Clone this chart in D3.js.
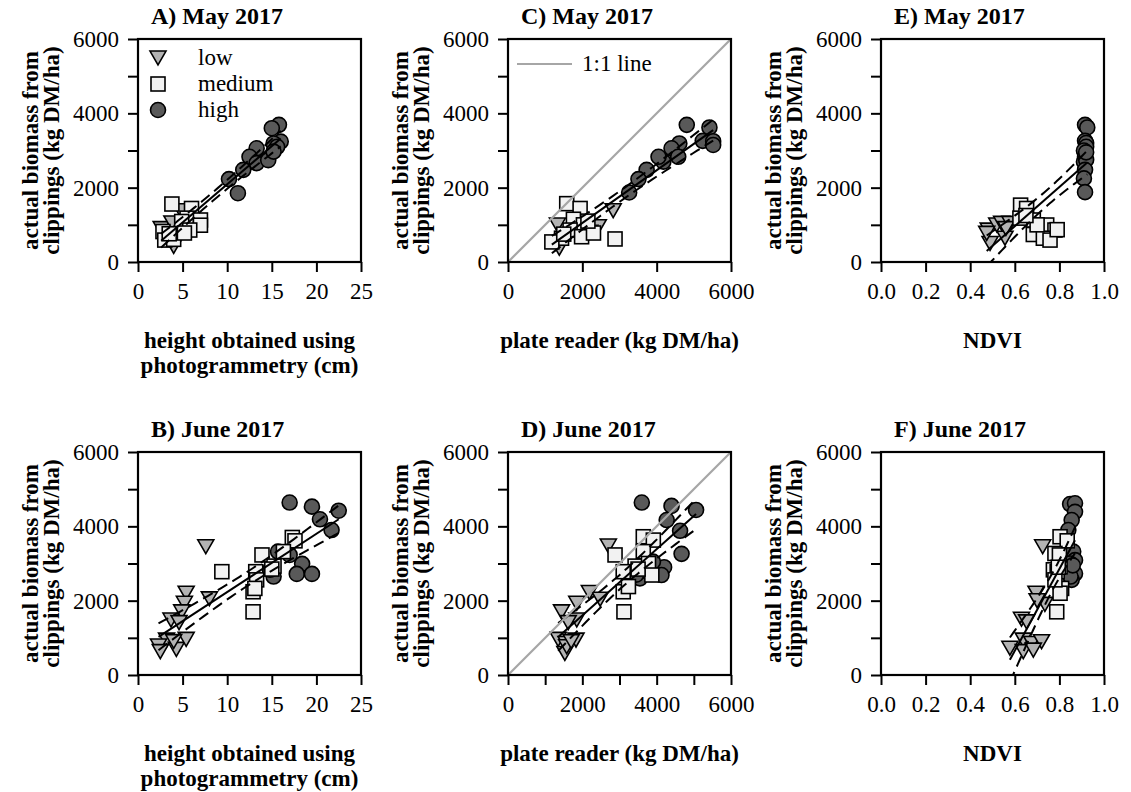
<!DOCTYPE html>
<html><head><meta charset="utf-8">
<script src="https://cdn.jsdelivr.net/npm/d3@7"></script>
<style>
body{margin:0;background:#fff}
svg{display:block}
text{font-family:"Liberation Serif","Times New Roman",serif;fill:#000}
</style>
</head><body>
<svg id="chart" width="1131" height="792"></svg>
<script>
// ---------- DATA ----------
// Panel A: height (cm) vs biomass, May 2017
const aLow  = [[2.6,900],[3.8,1050],[4.0,420],[4.8,1380],[3.3,650]];
const aMed  = [[3.8,1560],[6.0,1440],[5.5,1180],[7.0,1130],[7.0,990],[4.9,1090],[5.8,860],[2.8,820],[3.0,590],[4.0,610],[3.5,760],[5.2,780]];
const aHigh = [[15.8,3690],[15.0,3600],[16.0,3240],[15.2,3190],[15.6,3100],[13.3,3060],[12.5,2830],[13.3,2660],[14.6,2740],[11.8,2480],[10.2,2230],[11.2,1850],[15.2,2970]];
// Panel B: height (cm) vs biomass, June 2017
const bLow  = [[7.6,3450],[8.0,2050],[5.4,2200],[5.2,1930],[4.9,1700],[3.7,1480],[4.6,1410],[3.2,940],[2.3,780],[2.5,630],[4.3,690],[5.4,960],[4.0,900]];
const bMed  = [[17.3,3700],[17.6,3610],[16.3,3320],[13.9,3230],[15.25,2930],[13.2,2780],[13.3,2560],[12.9,2240],[13.1,2330],[12.9,1700],[9.4,2780],[15.0,2850]];
const bHigh = [[17.0,4640],[19.5,4530],[22.5,4420],[20.4,4190],[21.7,3900],[17.0,3230],[18.4,2990],[17.8,2720],[19.5,2720],[15.2,2650],[14.8,2830],[15.7,3320]];
// Panel C: plate reader vs biomass, May 2017
const cLow  = [[1330,995],[2830,1380],[2430,950],[1380,370],[2200,800]];
const cMed  = [[1580,1570],[1940,1440],[1760,1150],[2030,1000],[1670,860],[1440,640],[1180,540],[1980,680],[2300,780],[2880,620],[2150,1100],[1500,750]];
const cHigh = [[4810,3690],[5420,3620],[5240,3260],[5520,3250],[5520,3150],[4610,3190],[4400,3060],[4580,2830],[4180,2700],[4050,2830],[3730,2480],[3510,2230],[3260,1870]];
// Panel D: plate reader vs biomass, June 2017
const dLow  = [[2700,3470],[2190,2220],[2480,2040],[1850,1930],[1440,1700],[1850,1480],[1620,1410],[1350,960],[1560,850],[1830,940],[1530,580],[1580,760],[1700,900]];
const dMed  = [[3640,3720],[3910,3630],[2880,3230],[3640,3320],[3420,2930],[3780,3000],[3100,2780],[3870,2690],[3100,2240],[3240,2380],[3120,1700],[3500,2850]];
const dHigh = [[3600,4640],[4400,4550],[5060,4440],[4270,4170],[4630,3880],[4670,3260],[4200,2900],[4130,2690],[3550,2600],[3700,2800],[3450,2700],[3900,3050]];
// Panel E: NDVI vs biomass, May 2017
const eLow  = [[0.481,860],[0.519,995],[0.541,1040],[0.489,500],[0.556,640],[0.474,770],[0.578,1040],[0.56,900]];
const eMed  = [[0.626,1530],[0.653,1440],[0.683,1130],[0.623,1180],[0.743,995],[0.78,860],[0.683,740],[0.728,640],[0.758,590],[0.79,870],[0.70,1000],[0.65,1250]];
const eHigh = [[0.915,3690],[0.925,3620],[0.915,3260],[0.92,3200],[0.92,3100],[0.91,3000],[0.915,2830],[0.91,2700],[0.92,2750],[0.915,2480],[0.91,2250],[0.915,1880],[0.92,2950]];
// Panel F: NDVI vs biomass, June 2017
const fLow  = [[0.725,3450],[0.695,2200],[0.735,1900],[0.63,1500],[0.653,1430],[0.578,720],[0.638,940],[0.676,850],[0.72,896],[0.638,630],[0.683,670],[0.70,2000]];
const fMed  = [[0.803,3720],[0.835,3610],[0.78,3270],[0.803,2910],[0.773,2830],[0.81,2330],[0.803,2200],[0.788,1700],[0.79,2780],[0.80,3230],[0.78,2560],[0.795,2900]];
const fHigh = [[0.848,4600],[0.87,4620],[0.87,4390],[0.855,4170],[0.84,3900],[0.862,3320],[0.87,3090],[0.87,2730],[0.855,2560],[0.848,3000],[0.85,2650],[0.86,2950]];

const groupNames = ["low","medium","high"];
const panelTitles = ["A) May 2017","B) June 2017","C) May 2017","D) June 2017","E) May 2017","F) June 2017"];
const yTicks = [0,1000,2000,3000,4000,5000,6000];
const heightTicks = [0,5,10,15,20,25];
const plateTicksMay = [0,2000,4000,6000];
const plateTicksJune = [0,1000,2000,3000,4000,5000,6000];
const ndviTicks = [0,0.2,0.4,0.6,0.8,1.0];
const yTitle = ["actual biomass from","clippings (kg DM/ha)"];
const heightTitle = ["height obtained using","photogrammetry (cm)"];
const plateTitle = ["plate reader (kg DM/ha)"];
const ndviTitle = ["NDVI"];
const oneToOneLabel = "1:1 line";

// ---------- LAYOUT ----------
const svg = d3.select("#chart");
const PW = 223, PH = 223;
const colLeft = [138, 508, 881];
const rowTop = [39, 452];

const panels = [
  {t:0, col:0,row:0, low:aLow,med:aMed,high:aHigh, xd:[0,25], xt:heightTicks, fmt:d=>d3.format("d")(d), xtitle:heightTitle, legend:"groups"},
  {t:1, col:0,row:1, low:bLow,med:bMed,high:bHigh, xd:[0,25], xt:heightTicks, fmt:d=>d3.format("d")(d), xtitle:heightTitle},
  {t:2, col:1,row:0, low:cLow,med:cMed,high:cHigh, xd:[0,6000], xt:plateTicksMay, fmt:d=>d%2000===0?d:"", xtitle:plateTitle, one:true, legend:"line"},
  {t:3, col:1,row:1, low:dLow,med:dMed,high:dHigh, xd:[0,6000], xt:plateTicksJune, fmt:d=>d%2000===0?d:"", xtitle:plateTitle, one:true},
  {t:4, col:2,row:0, low:eLow,med:eMed,high:eHigh, xd:[0,1], xt:ndviTicks, fmt:d3.format(".1f"), xtitle:ndviTitle},
  {t:5, col:2,row:1, low:fLow,med:fMed,high:fHigh, xd:[0,1], xt:ndviTicks, fmt:d3.format(".1f"), xtitle:ndviTitle}
];

const triPath = s => { const h = s*0.87; return `M${-s/2},${-h/2}L${s/2},${-h/2}L0,${h/2}Z`; };
const COL = {low:"#b3b3b3", med:"#f2f2f2", high:"#595959"};

function fit(pts){
  const n = pts.length, mx = d3.mean(pts,d=>d[0]), my = d3.mean(pts,d=>d[1]);
  let sxx=0, sxy=0; pts.forEach(([x,y])=>{sxx+=(x-mx)*(x-mx); sxy+=(x-mx)*(y-my);});
  const b = sxy/sxx, a = my-b*mx;
  let sse=0; pts.forEach(([x,y])=>{const r=y-a-b*x; sse+=r*r;});
  return {a,b,mx,sxx,n,s:Math.sqrt(sse/(n-2)), x0:d3.min(pts,d=>d[0]), x1:d3.max(pts,d=>d[0])};
}

panels.forEach((p,i)=>{
  const L = colLeft[p.col], T = rowTop[p.row];
  const g = svg.append("g").attr("transform",`translate(${L},${T})`);
  const x = d3.scaleLinear().domain(p.xd).range([0,PW]);
  const y = d3.scaleLinear().domain([0,6000]).range([PH,0]);

  g.append("defs").append("clipPath").attr("id","clip"+i)
    .append("rect").attr("width",PW).attr("height",PH);

  // axes
  const ya = g.append("g").call(d3.axisLeft(y).tickValues(yTicks)
      .tickFormat(d=>d%2000===0?d:"").tickSize(10).tickPadding(9));
  const xa = g.append("g").attr("transform",`translate(0,${PH})`)
      .call(d3.axisBottom(x).tickValues(p.xt).tickFormat(p.fmt).tickSize(10).tickPadding(11));
  [ya,xa].forEach(a=>{
    a.select(".domain").remove();
    a.selectAll("line").attr("stroke","#000").attr("stroke-width",2);
    a.selectAll("text").style("font-size","23px").style("font-family","'Liberation Serif',serif");
  });

  // markers
  const pg = g.append("g").attr("clip-path",`url(#clip${i})`);
  pg.selectAll(".h").data(p.high).join("circle")
    .attr("cx",d=>x(d[0])).attr("cy",d=>y(d[1])).attr("r",7.5)
    .attr("fill",COL.high).attr("stroke","#000").attr("stroke-width",1.6);
  pg.selectAll(".l").data(p.low).join("path")
    .attr("d",triPath(16)).attr("transform",d=>`translate(${x(d[0])},${y(d[1])})`)
    .attr("fill",COL.low).attr("stroke","#000").attr("stroke-width",1.6);
  pg.selectAll(".m").data(p.med).join("rect")
    .attr("x",d=>x(d[0])-7).attr("y",d=>y(d[1])-7).attr("width",14).attr("height",14)
    .attr("fill",COL.med).attr("stroke","#000").attr("stroke-width",1.6);

  // regression with 95% confidence band
  const all = p.low.concat(p.med, p.high);
  const f = fit(all);
  const tval = 2.03;
  const xs = d3.range(0,41).map(k=>f.x0+(f.x1-f.x0)*k/40);
  const half = xv => tval*f.s*Math.sqrt(1/f.n + (xv-f.mx)*(xv-f.mx)/f.sxx);
  const line = d3.line().x(d=>x(d[0])).y(d=>y(d[1]));
  const lg = g.append("g").attr("clip-path",`url(#clip${i})`);
  lg.append("path").attr("d",line([[f.x0,f.a+f.b*f.x0],[f.x1,f.a+f.b*f.x1]]))
    .attr("fill","none").attr("stroke","#000").attr("stroke-width",2);
  [1,-1].forEach(sg=>{
    lg.append("path").attr("d",line(xs.map(v=>[v,f.a+f.b*v+sg*half(v)])))
      .attr("fill","none").attr("stroke","#000").attr("stroke-width",2).attr("stroke-dasharray","11,6");
  });

  if(p.one){
    lg.append("path").attr("d",line([[0,0],[6000,6000]]))
      .attr("fill","none").attr("stroke","#a6a6a6").attr("stroke-width",2.2);
  }

  // frame
  g.append("rect").attr("width",PW).attr("height",PH)
    .attr("fill","none").attr("stroke","#000").attr("stroke-width",2.2);

  // panel title
  g.append("text").attr("x",13).attr("y",-15).text(panelTitles[p.t])
    .style("font-size","24px").style("font-weight","bold");

  // y title
  yTitle.forEach((s,k)=>{
    g.append("text").attr("transform",`translate(${-100+k*21},${PH/2}) rotate(-90)`)
      .attr("text-anchor","middle").text(s)
      .style("font-size","23px").style("font-weight","bold");
  });
  // x title
  p.xtitle.forEach((s,k)=>{
    g.append("text").attr("x",PW/2).attr("y",PH+86+k*25)
      .attr("text-anchor","middle").text(s)
      .style("font-size","23px").style("font-weight","bold");
  });

  // legends
  if(p.legend==="groups"){
    const items = [
      {n:groupNames[0], s:"tri"},{n:groupNames[1], s:"sq"},{n:groupNames[2], s:"ci"}];
    items.forEach((it,k)=>{
      const cy = 19 + k*26, cx = 20;
      if(it.s==="tri") g.append("path").attr("d",triPath(16)).attr("transform",`translate(${cx},${cy})`)
        .attr("fill",COL.low).attr("stroke","#000").attr("stroke-width",1.6);
      if(it.s==="sq") g.append("rect").attr("x",cx-7).attr("y",cy-7).attr("width",14).attr("height",14)
        .attr("fill",COL.med).attr("stroke","#000").attr("stroke-width",1.6);
      if(it.s==="ci") g.append("circle").attr("cx",cx).attr("cy",cy).attr("r",7.5)
        .attr("fill",COL.high).attr("stroke","#000").attr("stroke-width",1.6);
      g.append("text").attr("x",60).attr("y",cy+7).text(it.n).style("font-size","23px");
    });
  }
  if(p.legend==="line"){
    g.append("line").attr("x1",9).attr("x2",64).attr("y1",25).attr("y2",25)
      .attr("stroke","#a6a6a6").attr("stroke-width",2.2);
    g.append("text").attr("x",74).attr("y",32).text(oneToOneLabel).style("font-size","23px");
  }
});
</script>
</body></html>
